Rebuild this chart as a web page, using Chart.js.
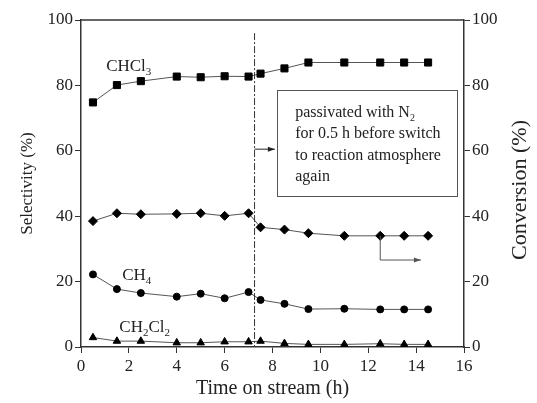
<!DOCTYPE html>
<html>
<head>
<meta charset="utf-8">
<script src="https://cdn.jsdelivr.net/npm/chart.js@4.4.0/dist/chart.umd.min.js"></script>
<style>
    html, body { margin: 0; padding: 0; background: #fff; }
    canvas { display: block; }
</style>
</head>
<body>
<canvas id="chart" width="537" height="403"></canvas>
<script>
// --- data ---
const timeH = [0.5, 1.5, 2.5, 4, 5, 6, 7, 7.5, 8.5, 9.5, 11, 12.5, 13.5, 14.5];
const chcl3Sel = [74.8, 80.1, 81.3, 82.7, 82.5, 82.8, 82.7, 83.6, 85.2, 87.0, 87.0, 87.0, 87.0, 87.0];
const ch4Sel = [22.2, 17.7, 16.5, 15.4, 16.3, 14.9, 16.8, 14.4, 13.2, 11.6, 11.7, 11.5, 11.5, 11.5];
const ch2cl2Sel = [2.9, 1.8, 1.8, 1.3, 1.3, 1.6, 1.6, 1.8, 1.1, 0.8, 0.8, 1.0, 0.8, 0.8];
const conversion = [38.5, 40.9, 40.6, 40.7, 40.9, 40.1, 40.9, 36.6, 35.9, 34.8, 34.0, 34.0, 34.0, 34.0];

const xTicks = [0, 2, 4, 6, 8, 10, 12, 14, 16];
const yTicks = [0, 20, 40, 60, 80, 100];

const switchTime = 7.25;   // N2 passivation, dash-dot line
const noteLines = [
    [['passivated with N', false], ['2', true]],
    [['for 0.5 h before switch', false]],
    [['to reaction atmosphere', false]],
    [['again', false]]
];

const SERIF = '"Liberation Serif", "Times New Roman", serif';
const INK = '#222';
const LINE = '#555';

function pts(ys) {
    return timeH.map((t, i) => ({ x: t, y: ys[i] }));
}

function series(ys, style, r, axis) {
    return {
        data: pts(ys),
        yAxisID: axis,
        borderColor: LINE,
        borderWidth: 1,
        pointStyle: style,
        pointRadius: r,
        pointBorderWidth: 1,
        pointBackgroundColor: '#000',
        pointBorderColor: '#000',
        tension: 0
    };
}

// draws text with optional subscript parts
function richText(ctx, parts, x, y, size) {
    let cx = x;
    parts.forEach(([txt, sub]) => {
        ctx.font = (sub ? Math.round(size * 0.65) : size) + 'px ' + SERIF;
        ctx.fillText(txt, cx, sub ? y + size * 0.25 : y);
        cx += ctx.measureText(txt).width;
    });
}

function arrowHead(ctx, x, y, dir) {
    ctx.beginPath();
    ctx.moveTo(x, y);
    ctx.lineTo(x - 7 * dir, y - 2.5);
    ctx.lineTo(x - 7 * dir, y + 2.5);
    ctx.closePath();
    ctx.fill();
}

const annotations = {
    id: 'annotations',
    afterDraw(chart) {
        const ctx = chart.ctx;
        const xs = chart.scales.x, ys = chart.scales.y;
        const area = chart.chartArea;
        const px = v => xs.getPixelForValue(v);
        const py = v => ys.getPixelForValue(v);

        ctx.save();
        // top frame
        ctx.strokeStyle = '#333';
        ctx.lineWidth = 1.5;
        ctx.beginPath();
        ctx.moveTo(area.left, area.top);
        ctx.lineTo(area.right, area.top);
        ctx.stroke();

        // dash-dot switch line
        ctx.lineWidth = 1;
        ctx.setLineDash([7, 2, 2, 2]);
        ctx.beginPath();
        ctx.moveTo(px(switchTime), py(96));
        ctx.lineTo(px(switchTime), area.bottom);
        ctx.stroke();
        ctx.setLineDash([]);

        // arrow from line to the note box
        ctx.fillStyle = INK;
        ctx.strokeStyle = INK;
        ctx.beginPath();
        ctx.moveTo(px(switchTime), py(60.5));
        ctx.lineTo(px(8.1), py(60.5));
        ctx.stroke();
        arrowHead(ctx, px(8.1), py(60.5), 1);

        // note box
        const bx = px(8.2), by = py(78.6);
        const bw = px(15.7) - bx, bh = py(46.3) - by;
        ctx.strokeStyle = LINE;
        ctx.strokeRect(Math.round(bx) + 0.5, Math.round(by) + 0.5, Math.round(bw), Math.round(bh));
        ctx.fillStyle = INK;
        ctx.textBaseline = 'alphabetic';
        ctx.textAlign = 'left';
        noteLines.forEach((ln, i) => richText(ctx, ln, px(8.95), by + 27 + i * 21.5, 16));

        // conversion arrow -> right axis
        ctx.strokeStyle = LINE;
        const cx = px(12.5);
        ctx.beginPath();
        ctx.moveTo(cx, ys.getPixelForValue(conversion[11]));
        ctx.lineTo(cx, py(26.6));
        ctx.lineTo(px(14.2), py(26.6));
        ctx.stroke();
        ctx.fillStyle = LINE;
        arrowHead(ctx, px(14.2), py(26.6), 1);

        // series labels
        ctx.fillStyle = INK;
        richText(ctx, [['CHCl', false], ['3', true]], px(1.05), py(84.4), 17);
        richText(ctx, [['CH', false], ['4', true]], px(1.72), py(20.5), 17);
        richText(ctx, [['CH', false], ['2', true], ['Cl', false], ['2', true]], px(1.6), py(4.7), 17);

        // right axis title, reads bottom to top
        ctx.font = '22px ' + SERIF;
        ctx.textAlign = 'center';
        ctx.textBaseline = 'middle';
        ctx.translate(520, 190);
        ctx.rotate(-Math.PI / 2);
        ctx.fillText('Conversion (%)', 0, 0);
        ctx.restore();
    }
};

const axisBase = {
    min: 0,
    border: { display: true, color: '#333', width: 1.5 },
    grid: { display: true, drawOnChartArea: false, drawTicks: true, tickLength: 6, color: '#333', lineWidth: 1 },
    ticks: { color: INK, font: { family: SERIF, size: 17 }, padding: 2 }
};

new Chart(document.getElementById('chart'), {
    type: 'line',
    data: {
        datasets: [
            series(chcl3Sel, 'rect', 5, 'y'),
            series(conversion, 'rectRot', 4.5, 'y2'),
            series(ch4Sel, 'circle', 3.5, 'y'),
            series(ch2cl2Sel, 'triangle', 4.3, 'y')
        ]
    },
    options: {
        responsive: false,
        animation: false,
        devicePixelRatio: 1,
        layout: { padding: { top: 20, left: 0, right: 0, bottom: 0 } },
        plugins: { legend: { display: false }, tooltip: { enabled: false } },
        scales: {
            x: {
                ...axisBase,
                type: 'linear',
                max: 16,
                afterBuildTicks: s => { s.ticks = xTicks.map(v => ({ value: v })); },
                afterFit: s => { s.height = 56; },
                ticks: { ...axisBase.ticks, padding: 3, maxRotation: 0 },
                title: { display: true, text: 'Time on stream (h)', color: INK, font: { family: SERIF, size: 20 }, padding: { bottom: 2 } }
            },
            y: {
                ...axisBase,
                position: 'left',
                max: 100,
                afterBuildTicks: s => { s.ticks = yTicks.map(v => ({ value: v })); },
                afterFit: s => { s.width = 81; },
                title: { display: true, text: 'Selectivity (%)', color: INK, font: { family: SERIF, size: 17 }, padding: { top: 17 } }
            },
            y2: {
                ...axisBase,
                position: 'right',
                max: 100,
                afterBuildTicks: s => { s.ticks = yTicks.map(v => ({ value: v })); },
                afterFit: s => { s.width = 73; }
            }
        }
    },
    plugins: [annotations]
});
</script>
</body>
</html>
